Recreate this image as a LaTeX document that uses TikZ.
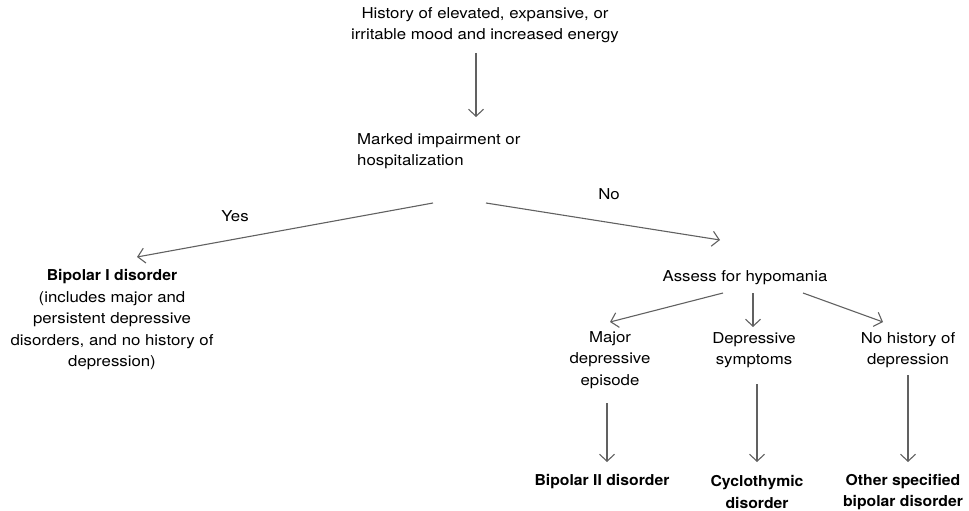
\documentclass[tikz,border=0pt]{standalone}
\usepackage{fontspec}
\setmainfont{TeX Gyre Heros}[FakeStretch=1.12, BoldFeatures={FakeStretch=1.05}]
\usetikzlibrary{arrows.meta}
\begin{document}
\begin{tikzpicture}[x=1pt,y=-1pt,
  txt/.style={inner sep=0pt, align=center, font=\fontsize{15}{21.5}\selectfont},
  bold/.style={txt, font=\fontsize{15}{21.5}\selectfont\bfseries},
  link/.style={draw=black!62, line width=1.1pt,
    -{Straight Barb[length=7pt,width=15pt,line width=1.1pt]}}]
\useasboundingbox (0,0) rectangle (969,511);

% question and decision text
\node[txt] (hist) at (485,25) {History of elevated, expansive, or\\irritable mood and increased energy};
\node[txt, align=left, anchor=west] (marked) at (357,151) {Marked impairment or\\hospitalization};
\node[txt] (yes) at (235,216) {Yes};
\node[txt] (no) at (609,194) {No};

% outcome on the left
\node[txt] (bp1) at (112,320) {\textbf{Bipolar I disorder}\\(includes major and\\persistent depressive\\disorders, and no history of\\depression)};

% hypomania branch
\node[txt] (assess) at (745,278) {Assess for hypomania};
\node[txt] (mde) at (610,360) {Major\\depressive\\episode};
\node[txt] (dep) at (754,350) {Depressive\\symptoms};
\node[txt] (nohist) at (908,350) {No history of\\depression};
\node[bold] (bp2) at (602,482) {Bipolar II disorder};
\node[bold] (cyc) at (757,492) {Cyclothymic\\disorder};
\node[bold] (other) at (903,492) {Other specified\\bipolar disorder};

% arrow end points
\coordinate (h1) at (476,53);   \coordinate (h2) at (476,117);
\coordinate (y1) at (433,203);  \coordinate (y2) at (137,257);
\coordinate (n1) at (486,203);  \coordinate (n2) at (720,240);
\coordinate (a1) at (723,293);  \coordinate (a2) at (610,322);
\coordinate (b1) at (753,293);  \coordinate (b2) at (753,327);
\coordinate (c1) at (803,293);  \coordinate (c2) at (883,322);
\coordinate (d1) at (607,403);  \coordinate (d2) at (607,462);
\coordinate (e1) at (757,384);  \coordinate (e2) at (757,462);
\coordinate (f1) at (908,375);  \coordinate (f2) at (908,462);

\draw[link] (h1) -- (h2);
\draw[link] (y1) -- (y2);
\draw[link] (n1) -- (n2);
\draw[link] (a1) -- (a2);
\draw[link] (b1) -- (b2);
\draw[link] (c1) -- (c2);
\draw[link] (d1) -- (d2);
\draw[link] (e1) -- (e2);
\draw[link] (f1) -- (f2);
\end{tikzpicture}
\end{document}
